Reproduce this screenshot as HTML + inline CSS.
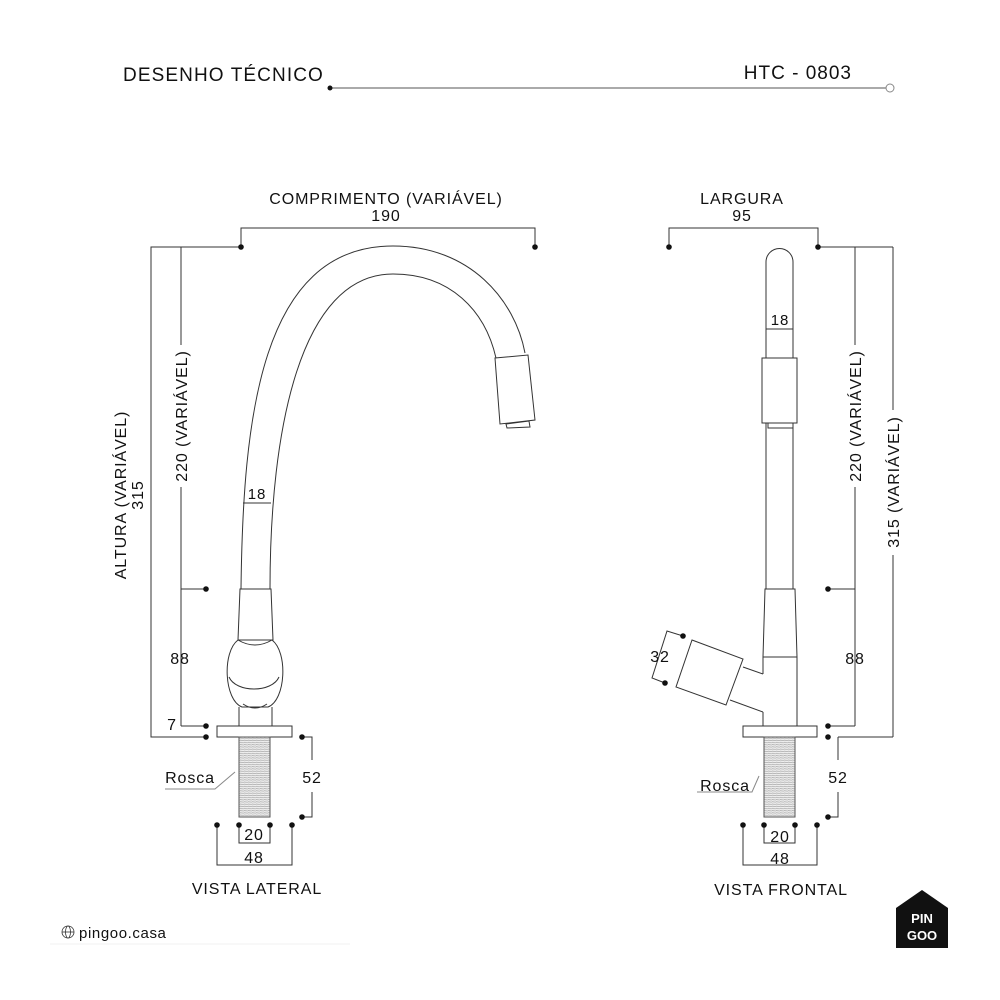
<!DOCTYPE html>
<html><head><meta charset="utf-8"><style>
html,body{margin:0;padding:0;background:#fff}
svg{display:block}
text{font-family:"Liberation Sans",sans-serif;fill:#111}
</style></head><body>
<svg width="1000" height="1000" viewBox="0 0 1000 1000">
<defs>
<pattern id="th" width="4" height="2.2" patternUnits="userSpaceOnUse">
<rect width="4" height="2.2" fill="#eee"/><line x1="0" y1="1" x2="4" y2="1.4" stroke="#999" stroke-width="0.6"/>
</pattern>
</defs>
<!-- header -->
<text x="123" y="81" font-size="19" letter-spacing="1.1">DESENHO TÉCNICO</text>
<text x="852" y="79" font-size="19" text-anchor="end" letter-spacing="1">HTC - 0803</text>
<line x1="330" y1="88" x2="886" y2="88" stroke="#555" stroke-width="1"/>
<circle cx="330" cy="88" r="2.5" fill="#111"/>
<circle cx="890" cy="88" r="4" fill="#fff" stroke="#888"/>

<g stroke="#333" stroke-width="1" fill="none">
<!-- LEFT dims -->
<polyline points="241,247 241,228 535,228 535,247"/>
<polyline points="241,247 151,247 151,737 206,737"/>
<line x1="181" y1="247" x2="181" y2="345"/>
<line x1="181" y1="487" x2="181" y2="726"/>
<line x1="181" y1="589" x2="206" y2="589"/>
<line x1="181" y1="726" x2="206" y2="726"/>
<polyline points="302,737 312,737 312,760"/>
<polyline points="312,792 312,817 302,817"/>
<polyline points="239,825 239,843 270,843 270,825"/>
<polyline points="217,825 217,865 292,865 292,825"/>
<polyline points="165,789 215,789 235,772" stroke="#888"/>
<!-- left faucet -->
<path d="M241,589 C243,420 260,246 393,246 C470,246 515,300 525,353"/>
<path d="M270,589 C270,430 300,274 393,274 C450,274 485,310 496,358"/>
<line x1="243" y1="503" x2="271" y2="503"/>
<polygon points="495,358 528,355 535,420 500,424"/>
<polygon points="506,424 529,421 530,427 507,428"/>
<polygon points="240,589 271,589 273,640 238,640"/>
<path d="M238,640 C222,652 224,700 242,707 L268,707 C286,700 288,652 272,640 Q255,650 238,640 Z" fill="#fff"/>
<path d="M229,677 C236,693 272,693 279,677"/>
<path d="M243,704 Q255,712 267,704"/>
<line x1="239" y1="707" x2="239" y2="726"/>
<line x1="272" y1="707" x2="272" y2="726"/>
<rect x="217" y="726" width="75" height="11" fill="#fff"/>
<rect x="239" y="737" width="31" height="80" fill="url(#th)" stroke="#555"/>

<!-- RIGHT dims -->
<polyline points="669,247 669,228 818,228 818,247"/>
<polyline points="818,247 893,247"/>
<line x1="855" y1="247" x2="855" y2="345"/>
<line x1="855" y1="487" x2="855" y2="726"/>
<line x1="893" y1="247" x2="893" y2="410"/>
<line x1="893" y1="555" x2="893" y2="737"/>
<line x1="828" y1="589" x2="855" y2="589"/>
<line x1="828" y1="726" x2="855" y2="726"/>
<line x1="838" y1="737" x2="893" y2="737"/>
<line x1="838" y1="737" x2="838" y2="760"/>
<polyline points="838,792 838,817 828,817"/>
<polyline points="764,825 764,843 795,843 795,825"/>
<polyline points="743,825 743,865 817,865 817,825"/>
<polyline points="697,792 752,792 759,776" stroke="#888"/>
<polyline points="683,636 667,631 652,678 665,683"/>
<!-- right faucet -->
<path d="M766,589 L766,262 A13.5,13.5 0 0 1 793,262 L793,589"/>
<line x1="766" y1="329" x2="793" y2="329"/>
<rect x="762" y="358" width="35" height="65" fill="#fff"/>
<rect x="768" y="423" width="25" height="5"/>
<polygon points="765,589 795,589 797,657 763,657"/>
<polyline points="763,657 763,674"/>
<polyline points="797,657 797,726"/>
<polyline points="763,712 763,726"/>
<polyline points="743,667 763,674"/>
<polyline points="730,700 763,712"/>
<polygon points="692,640 743,659 726,705 676,687" fill="#fff"/>
<rect x="743" y="726" width="74" height="11" fill="#fff"/>
<rect x="764" y="737" width="31" height="80" fill="url(#th)" stroke="#555"/>
</g>

<g fill="#111">
<circle cx="241" cy="247" r="2.8"/><circle cx="535" cy="247" r="2.8"/>
<circle cx="206" cy="589" r="2.8"/><circle cx="206" cy="726" r="2.8"/><circle cx="206" cy="737" r="2.8"/>
<circle cx="302" cy="737" r="2.8"/><circle cx="302" cy="817" r="2.8"/>
<circle cx="217" cy="825" r="2.8"/><circle cx="239" cy="825" r="2.8"/><circle cx="270" cy="825" r="2.8"/><circle cx="292" cy="825" r="2.8"/>
<circle cx="669" cy="247" r="2.8"/><circle cx="818" cy="247" r="2.8"/>
<circle cx="828" cy="589" r="2.8"/><circle cx="828" cy="726" r="2.8"/><circle cx="828" cy="737" r="2.8"/><circle cx="828" cy="817" r="2.8"/>
<circle cx="743" cy="825" r="2.8"/><circle cx="764" cy="825" r="2.8"/><circle cx="795" cy="825" r="2.8"/><circle cx="817" cy="825" r="2.8"/>
<circle cx="683" cy="636" r="2.8"/><circle cx="665" cy="683" r="2.8"/>
</g>

<g font-size="16" letter-spacing="0.9">
<text x="386" y="204" text-anchor="middle">COMPRIMENTO (VARIÁVEL)</text>
<text x="386" y="221" text-anchor="middle">190</text>
<text x="742" y="204" text-anchor="middle">LARGURA</text>
<text x="742" y="221" text-anchor="middle">95</text>
<text transform="translate(126,495) rotate(-90)" text-anchor="middle">ALTURA (VARIÁVEL)</text>
<text transform="translate(143,495) rotate(-90)" text-anchor="middle">315</text>
<text transform="translate(187,416) rotate(-90)" text-anchor="middle">220 (VARIÁVEL)</text>
<text transform="translate(861,416) rotate(-90)" text-anchor="middle">220 (VARIÁVEL)</text>
<text transform="translate(899,482) rotate(-90)" text-anchor="middle">315 (VARIÁVEL)</text>
<text x="257" y="499" text-anchor="middle" font-size="15">18</text>
<text x="780" y="325" text-anchor="middle" font-size="15">18</text>
<text x="180" y="664" text-anchor="middle">88</text>
<text x="855" y="664" text-anchor="middle">88</text>
<text x="172" y="730" text-anchor="middle">7</text>
<text x="312" y="783" text-anchor="middle">52</text>
<text x="838" y="783" text-anchor="middle">52</text>
<text x="660" y="662" text-anchor="middle">32</text>
<text x="254" y="840" text-anchor="middle">20</text>
<text x="254" y="863" text-anchor="middle">48</text>
<text x="780" y="842" text-anchor="middle">20</text>
<text x="780" y="864" text-anchor="middle">48</text>
<text x="190" y="783" text-anchor="middle">Rosca</text>
<text x="725" y="791" text-anchor="middle">Rosca</text>
<text x="257" y="894" text-anchor="middle">VISTA LATERAL</text>
<text x="781" y="895" text-anchor="middle">VISTA FRONTAL</text>
</g>

<!-- footer -->
<g stroke="#333" stroke-width="0.8" fill="none">
<circle cx="68" cy="932" r="6"/><ellipse cx="68" cy="932" rx="2.5" ry="6"/>
<line x1="62" y1="932" x2="74" y2="932"/>
</g>
<text x="79" y="938" font-size="15" letter-spacing="0.6">pingoo.casa</text>
<line x1="50" y1="944" x2="350" y2="944" stroke="#f0f0f0"/>
<polygon points="922,890 948,908 948,948 896,948 896,908" fill="#111"/>
<text x="922" y="923" font-size="13" text-anchor="middle" font-weight="bold" style="fill:#fff">PIN</text>
<text x="922" y="940" font-size="13" text-anchor="middle" font-weight="bold" style="fill:#fff">GOO</text>
</svg>
</body></html>
